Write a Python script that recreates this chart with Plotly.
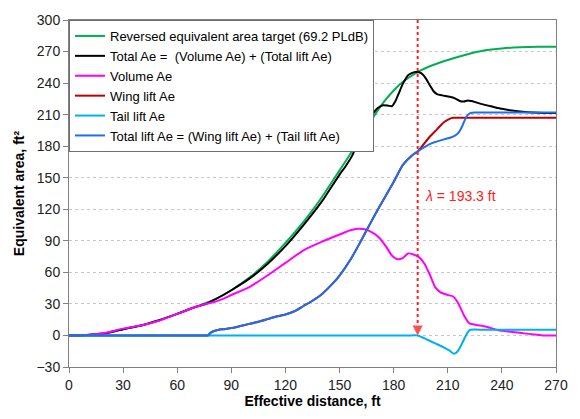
import plotly.graph_objects as go

# Effective distance (ft) and equivalent area (ft^2) for each component
target_x = [0, 10, 20, 30, 40, 50, 60, 70, 80, 90, 100, 110, 120, 130, 140, 150, 155,
            160, 165, 170, 175, 180, 185, 190, 195, 200, 210, 220, 230, 240, 250, 260, 270]
target_y = [0, 0.5, 2, 6, 9.5, 14.5, 20.5, 27, 33.5, 43, 55, 70, 88, 108, 131, 157, 170,
            184, 198, 211, 223, 233, 241, 247, 252, 256, 262, 267, 271, 273, 274, 274.5, 274.6]

total_x = [0, 10, 20, 30, 40, 50, 60, 70, 76, 80, 85, 90, 100, 110, 120, 130, 140, 150, 153,
           157, 161, 165, 168, 171, 174, 177, 179, 181, 183, 185, 188, 190, 192, 194, 196,
           198, 200, 202, 204, 207, 211, 214, 217, 219, 221, 223, 226, 230, 235, 240, 250, 260, 270]
total_y = [0, 0.5, 2, 6, 9.5, 14.5, 20.5, 27, 30, 33.5, 38, 43, 54, 68, 85, 105, 127, 153, 160,
           171, 187, 201, 209.5, 216, 219, 218.5, 218, 223, 231, 239, 247.5, 249.5, 250.5, 250.3, 248.5,
           244, 238, 232.5, 229.5, 228.3, 227, 225.5, 222.8, 222.5, 223.5, 223, 221.5, 219.5, 217.5, 215.5, 213, 211.8, 211.5]

volume_x = [0, 10, 20, 30, 40, 50, 60, 70, 76, 80, 85, 90, 100, 110, 120, 130, 140, 150, 156,
            160, 164, 168, 172, 176, 179, 182, 185, 188, 191, 194, 197, 200, 203, 206, 210,
            213, 216, 219, 222, 226, 231, 238, 245, 252, 258, 263, 270]
volume_y = [0, 0.5, 2.5, 6.5, 9.5, 14, 20.5, 27, 30, 31.5, 34.5, 38.5, 46, 57, 69, 81, 89, 96, 100,
            101.5, 101, 98, 93, 84, 76, 72.5, 73.5, 78, 77, 74.5, 68.5, 58, 46, 41, 38.5,
            37, 30, 19, 11.5, 10, 8.5, 5, 3.5, 2, 1, 0, 0]

wing_x = [0, 30, 60, 74, 77, 78.5, 80, 83, 86, 90, 95, 100, 105, 110, 115, 120, 125, 130, 135,
          140, 146, 150, 156, 160, 165, 170, 175, 180, 185, 190, 193.3, 196, 200, 204, 208, 211,
          213, 220, 240, 255, 270]
wing_y = [0, 0, 0, 0, 0, 2.5, 4, 5.5, 6, 7, 9, 11, 13, 15.5, 18, 20, 23, 28, 33,
          39, 49, 57, 72, 84, 100, 116, 131, 146, 162, 171, 175, 180.5, 189, 196, 203, 206,
          207, 207, 207, 207, 207]

tail_x = [0, 40, 80, 120, 160, 180, 188, 193.3, 198, 203, 208, 211, 213.5, 215.5, 217.5, 219.5,
          221, 222.5, 230, 245, 260, 270]
tail_y = [0, 0, 0, 0, 0, 0, 0, 0, -3.5, -7.5, -11.5, -14.5, -17.5, -15, -9, -2,
          3, 5.4, 5.4, 5.4, 5.4, 5.4]

lift_x = [0, 30, 60, 74, 77, 78.5, 80, 83, 86, 90, 95, 100, 105, 110, 115, 120, 125, 130, 135,
          140, 146, 150, 156, 160, 165, 170, 175, 180, 185, 190, 193.3, 197, 200, 203, 206, 209,
          212, 214, 216, 218, 219.5, 221, 222.5, 225, 235, 250, 270]
lift_y = [0, 0, 0, 0, 0, 2.5, 4, 5.5, 6, 7, 9, 11, 13, 15.5, 18, 20, 23, 28, 33,
          39, 49, 57, 72, 84, 100, 116, 131, 146, 162, 171, 175, 179, 182, 184, 185.5, 187,
          188.5, 190, 193, 199, 205, 209.5, 211.5, 212, 212, 212, 212]

wavelength = 193.3

series = [
    ("Reversed equivalent area target (69.2 PLdB)", target_x, target_y, "#00B050"),
    ("Total Ae =  (Volume Ae) + (Total lift Ae)", total_x, total_y, "#000000"),
    ("Volume Ae", volume_x, volume_y, "#FF00FF"),
    ("Wing lift Ae", wing_x, wing_y, "#C00000"),
    ("Tail lift Ae", tail_x, tail_y, "#00B0F0"),
    ("Total lift Ae = (Wing lift Ae) + (Tail lift Ae)", lift_x, lift_y, "#1E6FF0"),
]

fig = go.Figure()
for name, xs, ys, color in series:
    fig.add_trace(go.Scatter(
        x=xs, y=ys, name=name, mode="lines",
        line=dict(color=color, width=2, shape="spline", smoothing=0.5),
    ))

# Dotted marker line at the wavelength, ending in an arrow on the zero line
fig.add_shape(type="line", x0=wavelength, x1=wavelength, y0=300, y1=4,
              xref="x", yref="y", line=dict(color="#FF2020", width=2, dash="dot"))
fig.add_annotation(x=wavelength, y=0, ax=wavelength, ay=7, xref="x", yref="y",
                   axref="x", ayref="y", text="", showarrow=True, arrowhead=2,
                   arrowsize=1, arrowwidth=2, arrowcolor="#FF5050")
fig.add_annotation(x=wavelength + 3, y=133, xref="x", yref="y", xanchor="left",
                   text="<i>λ</i> = 193.3 ft", showarrow=False,
                   font=dict(color="#FF2020", size=14, family="Liberation Sans, Arial"))

axis_common = dict(
    showline=True, linecolor="#808080", linewidth=1, mirror=True,
    ticks="outside", ticklen=5, tickcolor="#808080",
    tickfont=dict(size=14, color="#222222"),
    zeroline=False,
)

fig.update_xaxes(range=[0, 270], tickvals=list(range(0, 271, 30)), showgrid=False,
                 title=dict(text="<b>Effective distance, ft</b>", font=dict(size=14, color="#000000"),
                            standoff=4),
                 **axis_common)
fig.update_yaxes(range=[-30, 300], tickvals=list(range(-30, 301, 30)), showgrid=True,
                 gridcolor="#C8C8C8", gridwidth=1, griddash="dot",
                 title=dict(text="<b>Equivalent area, ft²</b>", font=dict(size=14, color="#000000"),
                            standoff=8),
                 **axis_common)

fig.update_layout(
    width=580, height=419,
    margin=dict(l=69, r=12, t=12, b=49),
    paper_bgcolor="white", plot_bgcolor="white",
    font=dict(family="Liberation Sans, Arial, sans-serif", size=14, color="#000000"),
    showlegend=True,
    legend=dict(x=0, y=1, xanchor="left", yanchor="top", bgcolor="white",
                bordercolor="#707070", borderwidth=1, font=dict(size=13),
                tracegroupgap=0, itemwidth=30),
)

fig.write_html("out.html")
